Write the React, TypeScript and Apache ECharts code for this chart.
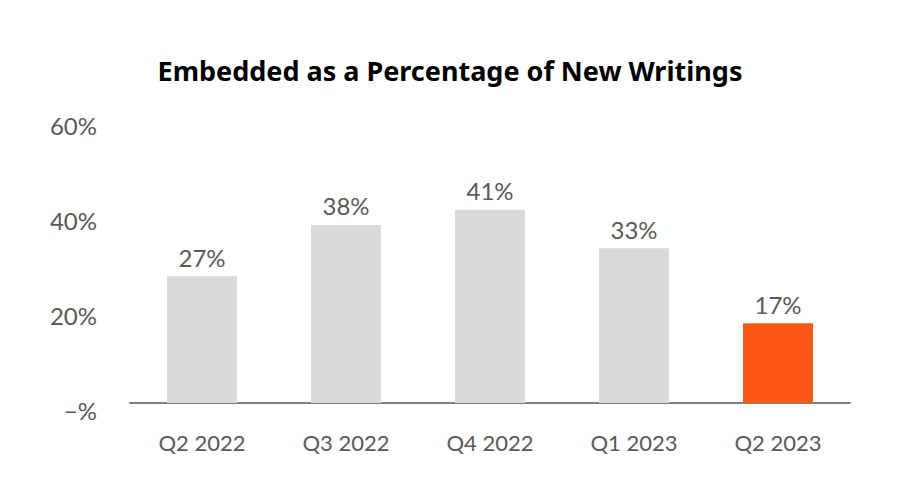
import React, { useEffect, useRef } from "react";
import * as echarts from "echarts";

const TITLE = "Embedded as a Percentage of New Writings";
const categories = ["Q2 2022", "Q3 2022", "Q4 2022", "Q1 2023", "Q2 2023"];
const values = [26.7, 37.5, 40.7, 32.6, 16.8];
const barColors = ["#d9d9d9", "#d9d9d9", "#d9d9d9", "#d9d9d9", "#fe5716"];
const yMin = 0;
const yMax = 60;
const yInterval = 20;

export default function App() {
  const ref = useRef<HTMLDivElement>(null);
  useEffect(() => {
    if (!ref.current) return;
    const chart = echarts.init(ref.current, null, { renderer: "svg" });
    chart.setOption({
      animation: false,
      backgroundColor: "#ffffff",
      title: {
        text: TITLE,
        left: "center",
        top: 57,
        padding: 0,
        textStyle: {
          fontFamily: "Noto Sans",
          fontWeight: "bold",
          fontSize: 27,
          color: "#000000",
        },
      },
      grid: { left: 130, right: 50, top: 118, bottom: 97, containLabel: false },
      xAxis: {
        type: "category",
        data: categories,
        axisLine: { show: true, lineStyle: { color: "#7f7f7f", width: 2 } },
        axisTick: { show: false },
        axisLabel: {
          color: "#595959",
          fontFamily: "Lato",
          fontSize: 22,
          margin: 28,
        },
      },
      yAxis: {
        type: "value",
        min: yMin,
        max: yMax,
        interval: yInterval,
        axisLine: { show: false },
        axisTick: { show: false },
        splitLine: { show: false },
        axisLabel: {
          color: "#595959",
          fontFamily: "Lato",
          fontSize: 24,
          margin: 33,
          verticalAlign: "top",
          lineHeight: 14,
          formatter: (v: number) => (v === 0 ? "\u2212%" : `${v}%`),
        },
      },
      series: [
        {
          type: "bar",
          barWidth: 70,
          data: values.map((v, i) => ({ value: v, itemStyle: { color: barColors[i] } })),
          label: {
            show: true,
            position: "top",
            distance: 7,
            color: "#595959",
            fontFamily: "Lato",
            fontSize: 24,
            formatter: (p: any) => `${Math.round(p.value)}%`,
          },
        },
      ],
    });
    return () => chart.dispose();
  }, []);
  return (
    <div
      ref={ref}
      style={{ position: "fixed", left: 0, top: 0, width: 900, height: 500 }}
    />
  );
}
